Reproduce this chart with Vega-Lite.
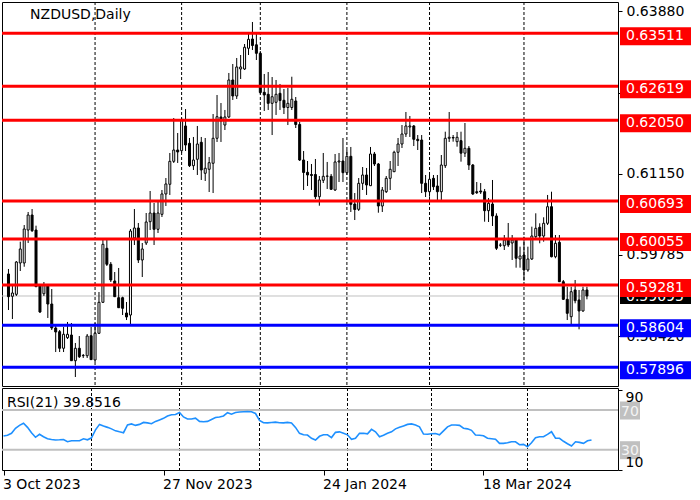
{
"$schema": "https://vega.github.io/schema/vega-lite/v6.json",
"background": "white",
"padding": {"left": -1, "top": 1, "right": 0, "bottom": 0},
"spacing": 2,
"bounds": "flush",
"config": {"font": "DejaVu Sans", "view": {"stroke": "black", "strokeWidth": 1}, "axis": {"labelFont": "DejaVu Sans", "labelFontSize": 14, "labelColor": "black", "tickColor": "black", "grid": false, "domain": false}},
"datasets": {
"bars": [
{"i":1,"o":0.59465,"h":0.59549,"l":0.58859,"c":0.59083,"r":43.8},
{"i":2,"o":0.5909,"h":0.59297,"l":0.58708,"c":0.59145,"r":44.6},
{"i":3,"o":0.59123,"h":0.59683,"l":0.59095,"c":0.59666,"r":46.5},
{"i":4,"o":0.5965,"h":0.60008,"l":0.59515,"c":0.59885,"r":51.5},
{"i":5,"o":0.5965,"h":0.60288,"l":0.59587,"c":0.60221,"r":54.5},
{"i":6,"o":0.60204,"h":0.60507,"l":0.59986,"c":0.60456,"r":56.6},
{"i":7,"o":0.60456,"h":0.60557,"l":0.60171,"c":0.60193,"r":52.5},
{"i":8,"o":0.60204,"h":0.60277,"l":0.59246,"c":0.59251,"r":47},
{"i":9,"o":0.59263,"h":0.59297,"l":0.58809,"c":0.58826,"r":42.5},
{"i":10,"o":0.59133,"h":0.5933,"l":0.59095,"c":0.5928,"r":45.5},
{"i":11,"o":0.59263,"h":0.5928,"l":0.58725,"c":0.5896,"r":43},
{"i":12,"o":0.5896,"h":0.59212,"l":0.58523,"c":0.58557,"r":41},
{"i":13,"o":0.58557,"h":0.58607,"l":0.58153,"c":0.5849,"r":40.3},
{"i":14,"o":0.58495,"h":0.58523,"l":0.58153,"c":0.58216,"r":39.8},
{"i":15,"o":0.58216,"h":0.58574,"l":0.58153,"c":0.58451,"r":40},
{"i":16,"o":0.58394,"h":0.58658,"l":0.58372,"c":0.58451,"r":40.3},
{"i":17,"o":0.58439,"h":0.58641,"l":0.58002,"c":0.58007,"r":38},
{"i":18,"o":0.58007,"h":0.58305,"l":0.57733,"c":0.58216,"r":39},
{"i":19,"o":0.58216,"h":0.58422,"l":0.58053,"c":0.58074,"r":39},
{"i":20,"o":0.58091,"h":0.5812,"l":0.58053,"c":0.58096,"r":39},
{"i":21,"o":0.58091,"h":0.58456,"l":0.58053,"c":0.58422,"r":41},
{"i":22,"o":0.58427,"h":0.58574,"l":0.58019,"c":0.58025,"r":40},
{"i":23,"o":0.58019,"h":0.58641,"l":0.57985,"c":0.58468,"r":42},
{"i":24,"o":0.58468,"h":0.59162,"l":0.58456,"c":0.58989,"r":50},
{"i":25,"o":0.58989,"h":0.60036,"l":0.58977,"c":0.59964,"r":55.5},
{"i":26,"o":0.59897,"h":0.60036,"l":0.59599,"c":0.59628,"r":53.9},
{"i":27,"o":0.59628,"h":0.59666,"l":0.5933,"c":0.59364,"r":52.5},
{"i":28,"o":0.59347,"h":0.59498,"l":0.59078,"c":0.59083,"r":51},
{"i":29,"o":0.59066,"h":0.59566,"l":0.58893,"c":0.58898,"r":49},
{"i":30,"o":0.59066,"h":0.59083,"l":0.58775,"c":0.58888,"r":48},
{"i":31,"o":0.58809,"h":0.58994,"l":0.58691,"c":0.58742,"r":47.1},
{"i":32,"o":0.58775,"h":0.60221,"l":0.58624,"c":0.60187,"r":55},
{"i":33,"o":0.6007,"h":0.60557,"l":0.59952,"c":0.60238,"r":56},
{"i":34,"o":0.60238,"h":0.60322,"l":0.5965,"c":0.597,"r":54.5},
{"i":35,"o":0.597,"h":0.59986,"l":0.59414,"c":0.59885,"r":55.5},
{"i":36,"o":0.59986,"h":0.6049,"l":0.59952,"c":0.60339,"r":57.5},
{"i":37,"o":0.60344,"h":0.6086,"l":0.60204,"c":0.6049,"r":57},
{"i":38,"o":0.6049,"h":0.60658,"l":0.59952,"c":0.60216,"r":56.2},
{"i":39,"o":0.60216,"h":0.60675,"l":0.60154,"c":0.6049,"r":58.5},
{"i":40,"o":0.60468,"h":0.60877,"l":0.60423,"c":0.6081,"r":60},
{"i":41,"o":0.6081,"h":0.61078,"l":0.60608,"c":0.60978,"r":61.6},
{"i":42,"o":0.60973,"h":0.61499,"l":0.60793,"c":0.61359,"r":64},
{"i":43,"o":0.61359,"h":0.62087,"l":0.61331,"c":0.61549,"r":65.2},
{"i":44,"o":0.61549,"h":0.61835,"l":0.61331,"c":0.61516,"r":65.5},
{"i":45,"o":0.61537,"h":0.62087,"l":0.61499,"c":0.62054,"r":67.5},
{"i":46,"o":0.61953,"h":0.62238,"l":0.61532,"c":0.61633,"r":63},
{"i":47,"o":0.61662,"h":0.61751,"l":0.61263,"c":0.61285,"r":61},
{"i":48,"o":0.61285,"h":0.61768,"l":0.61213,"c":0.61381,"r":61},
{"i":49,"o":0.61393,"h":0.61953,"l":0.61129,"c":0.6165,"r":61.8},
{"i":50,"o":0.61679,"h":0.61768,"l":0.61045,"c":0.61213,"r":58.5},
{"i":51,"o":0.61158,"h":0.61751,"l":0.61028,"c":0.61242,"r":58.2},
{"i":52,"o":0.61225,"h":0.61432,"l":0.60843,"c":0.61336,"r":58.5},
{"i":53,"o":0.61326,"h":0.62154,"l":0.60826,"c":0.61746,"r":60.5},
{"i":54,"o":0.61746,"h":0.62474,"l":0.61684,"c":0.62109,"r":62.5},
{"i":55,"o":0.62104,"h":0.62339,"l":0.61684,"c":0.62037,"r":63},
{"i":56,"o":0.61969,"h":0.62222,"l":0.61885,"c":0.62104,"r":64},
{"i":57,"o":0.62104,"h":0.62844,"l":0.62087,"c":0.62726,"r":67.3},
{"i":58,"o":0.62726,"h":0.62995,"l":0.6239,"c":0.62457,"r":65.8},
{"i":59,"o":0.62457,"h":0.63096,"l":0.62407,"c":0.62945,"r":67.5},
{"i":60,"o":0.62911,"h":0.63146,"l":0.62743,"c":0.62945,"r":68},
{"i":61,"o":0.62911,"h":0.63331,"l":0.62894,"c":0.63276,"r":68.3},
{"i":62,"o":0.63259,"h":0.63533,"l":0.63146,"c":0.6341,"r":68.5},
{"i":63,"o":0.63415,"h":0.63701,"l":0.6323,"c":0.63306,"r":68.3},
{"i":64,"o":0.63318,"h":0.63516,"l":0.63062,"c":0.63175,"r":66.5},
{"i":65,"o":0.63175,"h":0.63213,"l":0.62491,"c":0.62516,"r":59.5},
{"i":66,"o":0.62519,"h":0.62827,"l":0.62205,"c":0.62474,"r":57.2},
{"i":67,"o":0.62486,"h":0.6286,"l":0.62222,"c":0.62334,"r":57},
{"i":68,"o":0.62334,"h":0.62776,"l":0.61801,"c":0.62445,"r":57.4},
{"i":69,"o":0.62351,"h":0.62726,"l":0.62138,"c":0.62486,"r":57.8},
{"i":70,"o":0.62502,"h":0.62659,"l":0.62222,"c":0.62381,"r":57.2},
{"i":71,"o":0.62385,"h":0.62575,"l":0.62154,"c":0.62264,"r":57},
{"i":72,"o":0.62264,"h":0.62591,"l":0.61969,"c":0.62334,"r":57.5},
{"i":73,"o":0.62264,"h":0.62781,"l":0.62222,"c":0.62402,"r":57},
{"i":74,"o":0.62373,"h":0.6244,"l":0.61919,"c":0.61978,"r":52.5},
{"i":75,"o":0.61978,"h":0.6202,"l":0.61364,"c":0.61381,"r":46.5},
{"i":76,"o":0.61381,"h":0.61532,"l":0.60877,"c":0.61171,"r":45},
{"i":77,"o":0.61174,"h":0.61364,"l":0.60944,"c":0.61129,"r":44.8},
{"i":78,"o":0.61137,"h":0.61314,"l":0.60877,"c":0.61121,"r":41.5},
{"i":79,"o":0.61137,"h":0.61398,"l":0.60725,"c":0.60764,"r":39.8},
{"i":80,"o":0.60764,"h":0.61112,"l":0.60613,"c":0.61045,"r":43.5},
{"i":81,"o":0.6104,"h":0.61499,"l":0.60994,"c":0.61107,"r":45},
{"i":82,"o":0.61107,"h":0.61348,"l":0.60894,"c":0.61112,"r":45},
{"i":83,"o":0.61107,"h":0.61146,"l":0.60877,"c":0.60889,"r":42.2},
{"i":84,"o":0.60877,"h":0.61482,"l":0.6086,"c":0.61348,"r":47.5},
{"i":85,"o":0.61348,"h":0.61499,"l":0.61011,"c":0.61364,"r":48},
{"i":86,"o":0.61364,"h":0.61751,"l":0.61011,"c":0.61168,"r":46.5},
{"i":87,"o":0.61168,"h":0.61549,"l":0.61129,"c":0.61443,"r":45},
{"i":88,"o":0.61443,"h":0.616,"l":0.60507,"c":0.60636,"r":40.5},
{"i":89,"o":0.60641,"h":0.60826,"l":0.60372,"c":0.60549,"r":41.5},
{"i":90,"o":0.60552,"h":0.61078,"l":0.60524,"c":0.60989,"r":46.5},
{"i":91,"o":0.60989,"h":0.61263,"l":0.60877,"c":0.61129,"r":46.5},
{"i":92,"o":0.61129,"h":0.61247,"l":0.60793,"c":0.60961,"r":46},
{"i":93,"o":0.60949,"h":0.616,"l":0.60944,"c":0.61482,"r":50.5},
{"i":94,"o":0.61482,"h":0.61516,"l":0.6128,"c":0.61314,"r":48},
{"i":95,"o":0.61314,"h":0.61331,"l":0.60495,"c":0.60608,"r":43.1},
{"i":96,"o":0.60608,"h":0.60927,"l":0.60507,"c":0.60877,"r":44.5},
{"i":97,"o":0.60848,"h":0.61112,"l":0.60826,"c":0.61073,"r":46.5},
{"i":98,"o":0.61073,"h":0.61364,"l":0.60877,"c":0.61225,"r":48},
{"i":99,"o":0.61184,"h":0.61537,"l":0.61179,"c":0.61511,"r":51},
{"i":100,"o":0.61511,"h":0.61751,"l":0.6128,"c":0.6165,"r":52.5},
{"i":101,"o":0.6165,"h":0.61969,"l":0.61583,"c":0.61818,"r":54},
{"i":102,"o":0.61818,"h":0.62188,"l":0.61768,"c":0.61953,"r":55.5},
{"i":103,"o":0.61936,"h":0.62121,"l":0.61768,"c":0.61953,"r":56},
{"i":104,"o":0.61953,"h":0.61969,"l":0.61616,"c":0.61729,"r":54.8},
{"i":105,"o":0.61729,"h":0.61801,"l":0.61549,"c":0.61706,"r":53},
{"i":106,"o":0.61717,"h":0.61801,"l":0.60826,"c":0.60989,"r":45.8},
{"i":107,"o":0.60989,"h":0.61129,"l":0.60759,"c":0.60848,"r":45.5},
{"i":108,"o":0.60848,"h":0.61129,"l":0.60764,"c":0.61057,"r":46},
{"i":109,"o":0.61073,"h":0.61129,"l":0.60877,"c":0.60932,"r":46.3},
{"i":110,"o":0.60944,"h":0.61129,"l":0.60709,"c":0.60848,"r":45},
{"i":111,"o":0.60848,"h":0.61465,"l":0.60709,"c":0.61297,"r":49},
{"i":112,"o":0.61285,"h":0.61857,"l":0.61247,"c":0.61746,"r":53},
{"i":113,"o":0.61746,"h":0.62188,"l":0.61684,"c":0.61763,"r":54.9},
{"i":114,"o":0.61759,"h":0.61801,"l":0.61689,"c":0.61751,"r":54.9},
{"i":115,"o":0.61689,"h":0.61852,"l":0.61605,"c":0.61763,"r":54.5},
{"i":116,"o":0.61706,"h":0.61857,"l":0.61353,"c":0.61496,"r":51.6},
{"i":117,"o":0.61496,"h":0.62003,"l":0.61432,"c":0.61578,"r":51},
{"i":118,"o":0.61578,"h":0.61616,"l":0.61213,"c":0.61297,"r":49.5},
{"i":119,"o":0.61297,"h":0.61314,"l":0.60793,"c":0.6081,"r":44.8},
{"i":120,"o":0.60848,"h":0.61011,"l":0.6081,"c":0.60831,"r":44.5},
{"i":121,"o":0.6086,"h":0.60994,"l":0.6081,"c":0.60843,"r":44.1},
{"i":122,"o":0.60848,"h":0.60894,"l":0.60344,"c":0.60529,"r":41.5},
{"i":123,"o":0.60529,"h":0.60742,"l":0.60339,"c":0.60653,"r":41},
{"i":124,"o":0.60641,"h":0.61045,"l":0.60272,"c":0.6044,"r":40.5},
{"i":125,"o":0.6044,"h":0.60485,"l":0.59868,"c":0.59897,"r":36.4},
{"i":126,"o":0.59952,"h":0.59986,"l":0.59919,"c":0.59949,"r":36.4},
{"i":127,"o":0.5994,"h":0.6012,"l":0.59868,"c":0.60036,"r":37},
{"i":128,"o":0.60053,"h":0.60322,"l":0.59919,"c":0.59952,"r":38},
{"i":129,"o":0.59986,"h":0.6012,"l":0.597,"c":0.60036,"r":38},
{"i":130,"o":0.60036,"h":0.60065,"l":0.59571,"c":0.59729,"r":35},
{"i":131,"o":0.59717,"h":0.59924,"l":0.59571,"c":0.59767,"r":35.4},
{"i":132,"o":0.59784,"h":0.60092,"l":0.59352,"c":0.59532,"r":33},
{"i":133,"o":0.59532,"h":0.59924,"l":0.59503,"c":0.59717,"r":37},
{"i":134,"o":0.59717,"h":0.6026,"l":0.597,"c":0.60103,"r":42},
{"i":135,"o":0.60092,"h":0.60485,"l":0.60036,"c":0.60233,"r":43.1},
{"i":136,"o":0.6025,"h":0.60317,"l":0.59981,"c":0.60103,"r":43.1},
{"i":137,"o":0.60103,"h":0.60418,"l":0.60008,"c":0.60317,"r":45.5},
{"i":138,"o":0.60317,"h":0.60793,"l":0.60288,"c":0.60596,"r":48.1},
{"i":139,"o":0.60596,"h":0.60848,"l":0.59745,"c":0.59755,"r":41.5},
{"i":140,"o":0.59755,"h":0.6012,"l":0.59729,"c":0.59981,"r":41.5},
{"i":141,"o":0.59997,"h":0.6012,"l":0.5933,"c":0.59335,"r":38.5},
{"i":142,"o":0.59335,"h":0.59364,"l":0.59028,"c":0.59039,"r":36},
{"i":143,"o":0.59039,"h":0.59251,"l":0.58691,"c":0.58804,"r":33.7},
{"i":144,"o":0.58747,"h":0.59251,"l":0.58624,"c":0.59167,"r":38},
{"i":145,"o":0.59196,"h":0.59364,"l":0.58972,"c":0.59016,"r":37.4},
{"i":146,"o":0.59028,"h":0.59196,"l":0.58535,"c":0.58843,"r":36.4},
{"i":147,"o":0.58843,"h":0.59251,"l":0.58831,"c":0.59196,"r":39},
{"i":148,"o":0.59196,"h":0.59251,"l":0.59039,"c":0.59095,"r":39.85}
],
"levels": [
{"p":0.59095,"kind":"cur"},
{"p":0.63511,"kind":"res"},
{"p":0.62619,"kind":"res"},
{"p":0.6205,"kind":"res"},
{"p":0.60693,"kind":"res"},
{"p":0.60055,"kind":"res"},
{"p":0.59281,"kind":"res"},
{"p":0.58604,"kind":"sup"},
{"p":0.57896,"kind":"sup"}
],
"grid": [{"i":23},{"i":45},{"i":65},{"i":87},{"i":108},{"i":132}],
"rsilev": [{"v":70},{"v":30}]
},
"vconcat": [
{
"width": 616, "height": 384,
"layer": [
{"data": {"name": "grid"}, "mark": {"type": "rule", "strokeDash": [3,2], "color": "black", "strokeWidth": 1},
 "encoding": {"x": {"field": "i", "type": "quantitative", "scale": {"domain": [0.625, 154.625], "nice": false, "zero": false}, "axis": null}}},
{"data": {"name": "levels"}, "transform": [{"filter": "datum.kind == 'cur'"}], "mark": {"type": "rule", "color": "#c0c0c0", "strokeWidth": 1},
 "encoding": {"y": {"field": "p", "type": "quantitative", "scale": {"domain": [0.575818, 0.640372], "nice": false, "zero": false},
   "axis": {"orient": "right", "values": [0.6388, 0.62515, 0.6115, 0.59785, 0.5842], "format": ".5f", "tickSize": 4, "labelPadding": 4, "title": null, "domain": false, "grid": false, "labelFontSize": 14, "labelColor": "black", "labelOverlap": false, "labelFlush": false}}}},
{"data": {"name": "bars"}, "mark": {"type": "rule", "color": "black", "strokeWidth": 1},
 "encoding": {
  "x": {"field": "i", "type": "quantitative", "scale": {"domain": [0.625, 154.625], "nice": false, "zero": false}, "axis": null},
  "y": {"field": "l", "type": "quantitative", "scale": {"domain": [0.575818, 0.640372], "nice": false, "zero": false},
        "axis": {"orient": "right", "values": [0.6388, 0.62515, 0.6115, 0.59785, 0.5842], "format": ".5f", "tickSize": 4, "labelPadding": 4, "title": null, "domain": false, "grid": false, "labelFontSize": 14, "labelColor": "black", "labelOverlap": false, "labelFlush": false}},
  "y2": {"field": "h"}}},
{"data": {"name": "bars"}, "mark": {"type": "bar", "size": 2, "stroke": "black", "strokeWidth": 1, "orient": "vertical"},
 "encoding": {
  "x": {"field": "i", "type": "quantitative", "scale": {"domain": [0.625, 154.625], "nice": false, "zero": false}, "axis": null},
  "y": {"field": "o", "type": "quantitative", "scale": {"domain": [0.575818, 0.640372], "nice": false, "zero": false},
        "axis": {"orient": "right", "values": [0.6388, 0.62515, 0.6115, 0.59785, 0.5842], "format": ".5f", "tickSize": 4, "labelPadding": 4, "title": null, "domain": false, "grid": false, "labelFontSize": 14, "labelColor": "black", "labelOverlap": false, "labelFlush": false}},
  "y2": {"field": "c"},
  "fill": {"condition": {"test": "datum.c < datum.o", "value": "black"}, "value": "white"}}},
{"data": {"name": "levels"}, "transform": [{"filter": "datum.kind != 'cur'"}], "mark": {"type": "rule", "strokeWidth": 3},
 "encoding": {
  "y": {"field": "p", "type": "quantitative", "scale": {"domain": [0.575818, 0.640372], "nice": false, "zero": false},
        "axis": {"orient": "right", "values": [0.6388, 0.62515, 0.6115, 0.59785, 0.5842], "format": ".5f", "tickSize": 4, "labelPadding": 4, "title": null, "domain": false, "grid": false, "labelFontSize": 14, "labelColor": "black", "labelOverlap": false, "labelFlush": false}},
  "color": {"field": "kind", "type": "nominal", "scale": {"domain": ["res", "sup"], "range": ["#ff0000", "#0000ff"]}, "legend": null}}},
{"data": {"name": "levels"}, "transform": [{"filter": "datum.kind == 'cur'"}],
 "mark": {"type": "point", "filled": true, "shape": "M2,-8H73V8H2Z", "size": 4, "opacity": 1, "color": "black", "strokeWidth": 0},
 "encoding": {"x": {"value": "width"},
  "y": {"field": "p", "type": "quantitative", "scale": {"domain": [0.575818, 0.640372], "nice": false, "zero": false},
        "axis": {"orient": "right", "values": [0.6388, 0.62515, 0.6115, 0.59785, 0.5842], "format": ".5f", "tickSize": 4, "labelPadding": 4, "title": null, "domain": false, "grid": false, "labelFontSize": 14, "labelColor": "black", "labelOverlap": false, "labelFlush": false}}}},
{"data": {"name": "levels"}, "transform": [{"filter": "datum.kind == 'cur'"}],
 "mark": {"type": "text", "align": "left", "baseline": "middle", "dx": 8, "dy": 1, "color": "white", "fontSize": 14},
 "encoding": {"x": {"value": "width"},
  "y": {"field": "p", "type": "quantitative", "scale": {"domain": [0.575818, 0.640372], "nice": false, "zero": false},
        "axis": {"orient": "right", "values": [0.6388, 0.62515, 0.6115, 0.59785, 0.5842], "format": ".5f", "tickSize": 4, "labelPadding": 4, "title": null, "domain": false, "grid": false, "labelFontSize": 14, "labelColor": "black", "labelOverlap": false, "labelFlush": false}},
  "text": {"field": "p", "type": "quantitative", "format": ".5f"}}},
{"data": {"name": "levels"}, "transform": [{"filter": "datum.kind != 'cur'"}],
 "mark": {"type": "point", "filled": true, "shape": "M2,-6H73V12H2Z", "size": 4, "opacity": 1, "strokeWidth": 0},
 "encoding": {"x": {"value": "width"},
  "y": {"field": "p", "type": "quantitative", "scale": {"domain": [0.575818, 0.640372], "nice": false, "zero": false},
        "axis": {"orient": "right", "values": [0.6388, 0.62515, 0.6115, 0.59785, 0.5842], "format": ".5f", "tickSize": 4, "labelPadding": 4, "title": null, "domain": false, "grid": false, "labelFontSize": 14, "labelColor": "black", "labelOverlap": false, "labelFlush": false}},
  "color": {"field": "kind", "type": "nominal", "scale": {"domain": ["res", "sup"], "range": ["#ff0000", "#0000ff"]}, "legend": null}}},
{"data": {"name": "levels"}, "transform": [{"filter": "datum.kind != 'cur'"}],
 "mark": {"type": "text", "align": "left", "baseline": "middle", "dx": 8, "dy": 3, "color": "white", "fontSize": 14},
 "encoding": {"x": {"value": "width"},
  "y": {"field": "p", "type": "quantitative", "scale": {"domain": [0.575818, 0.640372], "nice": false, "zero": false},
        "axis": {"orient": "right", "values": [0.6388, 0.62515, 0.6115, 0.59785, 0.5842], "format": ".5f", "tickSize": 4, "labelPadding": 4, "title": null, "domain": false, "grid": false, "labelFontSize": 14, "labelColor": "black", "labelOverlap": false, "labelFlush": false}},
  "text": {"field": "p", "type": "quantitative", "format": ".5f"}}},
{"data": {"values": [{"label": "NZDUSD,Daily"}]},
 "mark": {"type": "text", "align": "left", "baseline": "middle", "fontSize": 14, "color": "black"},
 "encoding": {
  "x": {"datum": 6.5, "type": "quantitative", "scale": {"domain": [0.625, 154.625], "nice": false, "zero": false}, "axis": null},
  "y": {"datum": 0.63819, "type": "quantitative", "scale": {"domain": [0.575818, 0.640372], "nice": false, "zero": false},
        "axis": {"orient": "right", "values": [0.6388, 0.62515, 0.6115, 0.59785, 0.5842], "format": ".5f", "tickSize": 4, "labelPadding": 4, "title": null, "domain": false, "grid": false, "labelFontSize": 14, "labelColor": "black", "labelOverlap": false, "labelFlush": false}},
  "text": {"field": "label"}}}
]
},
{
"width": 616, "height": 82,
"layer": [
{"data": {"name": "grid"}, "mark": {"type": "rule", "strokeDash": [3,2], "color": "black", "strokeWidth": 1},
 "encoding": {"x": {"field": "i", "type": "quantitative", "scale": {"domain": [0.625, 154.625], "nice": false, "zero": false},
   "axis": {"orient": "bottom", "values": [1, 41, 81, 121], "labelExpr": "datum.value == 1 ? '3 Oct 2023' : datum.value == 41 ? '27 Nov 2023' : datum.value == 81 ? '24 Jan 2024' : '18 Mar 2024'", "labelAlign": "left", "labelBaseline": "top", "labelOffset": -1, "tickSize": 5, "labelPadding": 2, "title": null, "domain": false, "grid": false, "labelFontSize": 14, "labelColor": "black", "labelFlush": false, "labelOverlap": false}}}},
{"data": {"name": "rsilev"}, "mark": {"type": "rule", "color": "#c0c0c0", "strokeWidth": 2},
 "encoding": {"y": {"field": "v", "type": "quantitative", "scale": {"domain": [9.55, 92.17], "nice": false, "zero": false},
   "axis": {"orient": "right", "values": [10, 90], "tickSize": 4, "labelPadding": 3, "labelFlush": 5, "zindex": 1, "title": null, "domain": false, "grid": false, "labelFontSize": 14, "labelColor": "black", "labelOverlap": false}}}},
{"data": {"name": "bars"}, "mark": {"type": "line", "color": "#1e90ff", "strokeWidth": 1.6},
 "encoding": {
  "x": {"field": "i", "type": "quantitative", "scale": {"domain": [0.625, 154.625], "nice": false, "zero": false},
        "axis": {"orient": "bottom", "values": [1, 41, 81, 121], "labelExpr": "datum.value == 1 ? '3 Oct 2023' : datum.value == 41 ? '27 Nov 2023' : datum.value == 81 ? '24 Jan 2024' : '18 Mar 2024'", "labelAlign": "left", "labelBaseline": "top", "labelOffset": -1, "tickSize": 5, "labelPadding": 2, "title": null, "domain": false, "grid": false, "labelFontSize": 14, "labelColor": "black", "labelFlush": false, "labelOverlap": false}},
  "y": {"field": "r", "type": "quantitative", "scale": {"domain": [9.55, 92.17], "nice": false, "zero": false},
        "axis": {"orient": "right", "values": [10, 90], "tickSize": 4, "labelPadding": 3, "labelFlush": 5, "zindex": 1, "title": null, "domain": false, "grid": false, "labelFontSize": 14, "labelColor": "black", "labelOverlap": false}}}},
{"data": {"values": [{"label": "RSI(21) 39.8516"}]},
 "mark": {"type": "text", "align": "left", "baseline": "middle", "fontSize": 14, "color": "black"},
 "encoding": {
  "x": {"datum": 1.875, "type": "quantitative", "scale": {"domain": [0.625, 154.625], "nice": false, "zero": false},
        "axis": {"orient": "bottom", "values": [1, 41, 81, 121], "labelExpr": "datum.value == 1 ? '3 Oct 2023' : datum.value == 41 ? '27 Nov 2023' : datum.value == 81 ? '24 Jan 2024' : '18 Mar 2024'", "labelAlign": "left", "labelBaseline": "top", "labelOffset": -1, "tickSize": 5, "labelPadding": 2, "title": null, "domain": false, "grid": false, "labelFontSize": 14, "labelColor": "black", "labelFlush": false, "labelOverlap": false}},
  "y": {"datum": 77.4, "type": "quantitative", "scale": {"domain": [9.55, 92.17], "nice": false, "zero": false},
        "axis": {"orient": "right", "values": [10, 90], "tickSize": 4, "labelPadding": 3, "labelFlush": 5, "zindex": 1, "title": null, "domain": false, "grid": false, "labelFontSize": 14, "labelColor": "black", "labelOverlap": false}},
  "text": {"field": "label"}}},
{"data": {"name": "rsilev"},
 "mark": {"type": "point", "filled": true, "shape": "M2,-8.5H22V9.5H2Z", "size": 4, "opacity": 1, "color": "#c0c0c0", "strokeWidth": 0},
 "encoding": {"x": {"value": "width"},
  "y": {"field": "v", "type": "quantitative", "scale": {"domain": [9.55, 92.17], "nice": false, "zero": false},
        "axis": {"orient": "right", "values": [10, 90], "tickSize": 4, "labelPadding": 3, "labelFlush": 5, "zindex": 1, "title": null, "domain": false, "grid": false, "labelFontSize": 14, "labelColor": "black", "labelOverlap": false}}}},
{"data": {"name": "rsilev"},
 "mark": {"type": "text", "align": "left", "baseline": "middle", "dx": 3, "dy": 1.5, "color": "#f4f4f4", "fontSize": 14},
 "encoding": {"x": {"value": "width"},
  "y": {"field": "v", "type": "quantitative", "scale": {"domain": [9.55, 92.17], "nice": false, "zero": false},
        "axis": {"orient": "right", "values": [10, 90], "tickSize": 4, "labelPadding": 3, "labelFlush": 5, "zindex": 1, "title": null, "domain": false, "grid": false, "labelFontSize": 14, "labelColor": "black", "labelOverlap": false}},
  "text": {"field": "v", "type": "quantitative"}}}
]
}
]
}
